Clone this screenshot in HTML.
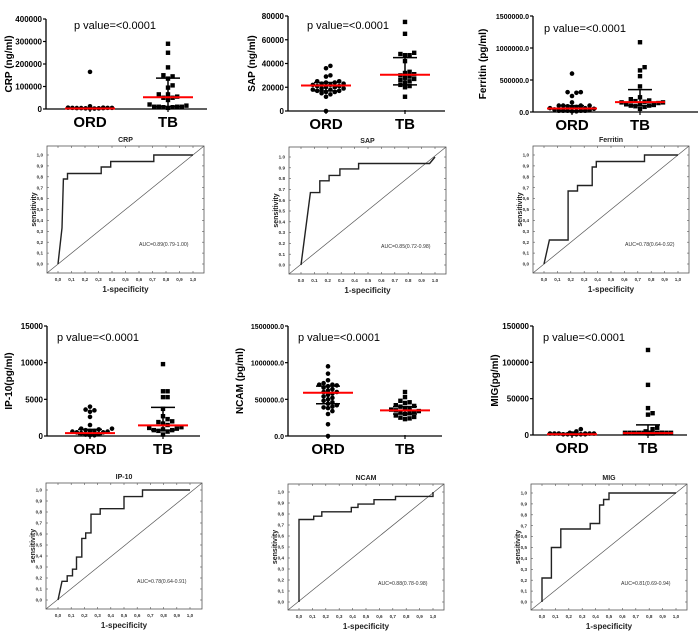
<!DOCTYPE html>
<html><head><meta charset="utf-8">
<style>
body{margin:0;background:#fff;}
svg{display:block;font-family:"Liberation Sans",Arial,sans-serif;}
</style></head>
<body>
<svg id="fig" width="700" height="638" viewBox="0 0 700 638" xmlns="http://www.w3.org/2000/svg"></svg>
<script>
// ---- scatter data ----
const groups = ["ORD","TB"];
const crpORD = [165000,12000,6000,6000,5000,5000,5000,4000,4000,4000,3000,3000,2000,2000];
const crpTB = [290000,250000,185000,150000,145000,135000,105000,95000,65000,65000,55000,50000,50000,40000,20000,15000,10000,10000,10000,10000,8000,8000,5000];
const crpStats = {ORD:[2000,1000,5000], TB:[52000,10000,137000]};
const sapORD = [38000,36000,30000,29000,25000,25000,24000,24000,23000,23000,22000,22000,21000,21000,20000,20000,19000,19000,18000,18000,17000,17000,16000,16000,15000,14000,12000,0];
const sapTB = [75000,65000,49000,48000,47000,47000,42000,33000,32000,31000,30000,29000,28000,27000,26000,25000,24000,22000,21000,20000,12000];
const sapStats = {ORD:[21500,17000,24000], TB:[30500,22000,45000]};
const ferORD = [600000,310000,310000,300000,250000,150000,100000,100000,100000,100000,90000,90000,80000,80000,60000,60000,50000,40000,30000,20000,20000,20000,20000,20000,10000,10000];
const ferTB = [1090000,700000,650000,560000,400000,230000,200000,180000,170000,160000,150000,150000,140000,130000,120000,110000,100000,100000,90000,80000,50000];
const ferStats = {ORD:[55000,20000,100000], TB:[155000,100000,350000]};
const ipORD = [4000,3600,3500,3300,2600,1500,1000,1000,900,800,700,700,600,600,500,500,400,300,200,100,100];
const ipTB = [9800,6100,6100,5300,5300,3700,2700,2300,2000,1900,1700,1500,1200,1100,1000,900,800,800,700,600,200];
const ipStats = {ORD:[400,200,900], TB:[1450,800,3900]};
const ncORD = [950000,850000,760000,720000,700000,700000,690000,680000,660000,640000,620000,600000,600000,580000,560000,540000,520000,500000,480000,460000,440000,420000,400000,390000,380000,340000,300000,160000,0];
const ncTB = [600000,530000,480000,460000,450000,420000,410000,400000,380000,370000,360000,350000,340000,330000,320000,310000,300000,280000,260000,250000,240000,230000];
const ncStats = {ORD:[590000,440000,680000], TB:[350000,300000,400000]};
const migORD = [8000,5000,3000,2000,2000,2000,2000,2000,2000,2000,2000,1000,1000,1000,1000,1000,1000];
const migTB = [117000,69000,37000,30000,28000,10000,8000,5000,3000,3000,3000,3000,3000,3000,3000,3000,3000,3000,3000,3000,2000,2000];
const migStats = {ORD:[1000,500,2000], TB:[2500,1500,14000]};
const tickCRP = ["0","100000","200000","300000","400000"];
const tickSAP = ["0","20000","40000","60000","80000"];
const tickFER = ["0.0","500000.0","1000000.0","1500000.0"];
const tickIP = ["0","5000","10000","15000"];
const tickNC = ["0.0","500000.0","1000000.0","1500000.0"];
const tickMIG = ["0","50000","100000","150000"];

// ---- ROC data ----
const rocCRPx = [0,0.03,0.04,0.07,0.07,0.32,0.32,0.39,0.39,0.71,0.71,1];
const rocCRPy = [0,0.33,0.78,0.78,0.83,0.83,0.89,0.89,0.94,0.94,1,1];
const rocSAPx = [0,0.07,0.14,0.14,0.21,0.21,0.29,0.29,0.43,0.43,0.96,1];
const rocSAPy = [0,0.67,0.67,0.78,0.78,0.83,0.83,0.89,0.89,0.94,0.94,1];
const rocFERx = [0,0.04,0.18,0.18,0.25,0.25,0.36,0.36,0.39,0.39,0.75,0.75,1];
const rocFERy = [0,0.22,0.22,0.67,0.67,0.72,0.72,0.89,0.89,0.94,0.94,1,1];
const rocIPx = [0,0.03,0.07,0.07,0.11,0.11,0.14,0.14,0.18,0.18,0.21,0.21,0.25,0.25,0.32,0.32,0.5,0.5,0.64,0.64,1];
const rocIPy = [0,0.17,0.17,0.22,0.22,0.28,0.28,0.39,0.39,0.56,0.56,0.61,0.61,0.78,0.78,0.83,0.83,0.94,0.94,1,1];
const rocNCx = [0,0,0.11,0.11,0.17,0.17,0.39,0.39,0.44,0.44,0.56,0.56,0.72,0.72,1,1];
const rocNCy = [0,0.75,0.75,0.78,0.78,0.82,0.82,0.86,0.86,0.89,0.89,0.93,0.93,0.96,0.96,1];
const rocMIGx = [0,0,0.07,0.07,0.14,0.14,0.36,0.36,0.43,0.43,0.46,0.46,0.5,0.5,1];
const rocMIGy = [0,0.22,0.22,0.5,0.5,0.67,0.67,0.72,0.72,0.89,0.89,0.94,0.94,1,1];
const rocTicksComma = ["0,0","0,1","0,2","0,3","0,4","0,5","0,6","0,7","0,8","0,9","1,0"];
const rocTicksDot = ["0.0","0.1","0.2","0.3","0.4","0.5","0.6","0.7","0.8","0.9","1.0"];

const NS="http://www.w3.org/2000/svg";
const svg=document.getElementById('fig');
function mk(tag,attrs,parent,txt){const e=document.createElementNS(NS,tag);for(const k in attrs)e.setAttribute(k,attrs[k]);if(txt!==undefined)e.textContent=txt;(parent||svg).appendChild(e);return e;}

function scatter(cfg){
  const g=mk('g',{});
  
  
  const ys=v=>cfg.bot-(v/cfg.ymax)*(cfg.bot-cfg.top);
  const ax=mk('line',{x1:cfg.ax,y1:cfg.top,x2:cfg.ax,y2:cfg.bot,stroke:'#000','stroke-width':1.3},g);
  
  const xa=mk('line',{x1:cfg.ax,y1:cfg.bot,x2:cfg.xend,y2:cfg.bot,stroke:'#000','stroke-width':1.3},g);
  
  const n=cfg.ticks.length;
  cfg.ticks.forEach((t,i)=>{
    const v=cfg.ymax*i/(n-1);const y=ys(v);
    mk('line',{x1:cfg.ax-3,y1:y,x2:cfg.ax,y2:y,stroke:'#000','stroke-width':1.2},g);
    const tx=mk('text',{x:cfg.ax-4,y:y+3,'font-size':cfg.tfs||8,'font-weight':'bold','text-anchor':'end'},g,t);
    
  });
  const yl=mk('text',{x:0,y:0,'font-size':10,'font-weight':'bold','text-anchor':'middle',transform:`translate(${cfg.ylx},${(cfg.top+cfg.bot)/2}) rotate(-90)`},g,cfg.ylabel);
  
  const pv=mk('text',{x:cfg.px,y:cfg.py,'font-size':11},g,'p value=<0.0001');
  
  [[cfg.c1,cfg.d1,cfg.stats.ORD,0],[cfg.c2,cfg.d2,cfg.stats.TB,1]].forEach(([cx,data,st,gi])=>{
    const gl=mk('text',{x:cx,y:cfg.bot+18,'font-size':15,'font-weight':'bold','text-anchor':'middle'},g,groups[gi]);
    
    mk('line',{x1:cx,y1:cfg.bot-1,x2:cx,y2:cfg.bot+3,stroke:'#000','stroke-width':1.2},g);
    const placed=[];const sorted=data.slice().sort((a,b)=>a-b);
    const d=gi?4.6:4.4;const maxOff=26;
    sorted.forEach((v,idx)=>{
      const y=ys(v);let off=null;
      for(let k=0;k<40;k++){
        const cand=(k%2?1:-1)*Math.ceil(k/2)*d;
        if(Math.abs(cand)>maxOff)break;
        if(placed.every(p=>Math.hypot(p[0]-cand,p[1]-y)>=d-0.1)){off=cand;break;}
      }
      if(off===null){const k=idx%12;off=(k%2?1:-1)*Math.ceil(k/2)*d*0.5;}
      placed.push([off,y]);
      let m;
      if(gi===0){m=mk('circle',{cx:cx+off,cy:y,r:2.3,fill:'#000'},g);}
      else{m=mk('rect',{x:cx+off-2.2,y:y-2.2,width:4.4,height:4.4,fill:'#000'},g);}
      
      
    });
    const [med,lo,hi]=st;
    mk('line',{x1:cx,y1:ys(lo),x2:cx,y2:ys(hi),stroke:'#000','stroke-width':1.5},g);
    mk('line',{x1:cx-12,y1:ys(hi),x2:cx+12,y2:ys(hi),stroke:'#000','stroke-width':1.5},g);
    mk('line',{x1:cx-12,y1:ys(lo),x2:cx+12,y2:ys(lo),stroke:'#000','stroke-width':1.5},g);
    const ml=mk('line',{x1:cx-25,y1:ys(med),x2:cx+25,y2:ys(med),stroke:'#f00','stroke-width':2},g);
    
  });
}

function roc(cfg){
  const g=mk('g',{});
  
  
  const xs=v=>cfg.x0+v*(cfg.x1-cfg.x0);
  const ys=v=>cfg.y0-v*(cfg.y0-cfg.y1);
  const b=mk('rect',{x:cfg.L,y:cfg.T,width:cfg.R-cfg.L,height:cfg.B-cfg.T,fill:'none',stroke:'#555','stroke-width':0.8},g);
  
  const tl=mk('text',{x:(cfg.L+cfg.R)/2,y:cfg.T-4,'font-size':7,'font-weight':'bold','text-anchor':'middle',fill:'#222'},g,cfg.title);
  
  cfg.ticks.forEach((t,i)=>{
    const v=i/10;
    mk('text',{x:xs(v),y:cfg.B+8,'font-size':4.6,'font-weight':'bold','text-anchor':'middle',fill:'#333'},g,t);
    mk('text',{x:cfg.L-4,y:ys(v)+1.6,'font-size':4.6,'font-weight':'bold','text-anchor':'end',fill:'#333'},g,t);
    mk('line',{x1:xs(v),y1:cfg.B,x2:xs(v),y2:cfg.B-2,stroke:'#555','stroke-width':0.6},g);
    mk('line',{x1:xs(v),y1:cfg.T,x2:xs(v),y2:cfg.T+2,stroke:'#555','stroke-width':0.6},g);
    mk('line',{x1:cfg.L,y1:ys(v),x2:cfg.L+2,y2:ys(v),stroke:'#555','stroke-width':0.6},g);
    mk('line',{x1:cfg.R,y1:ys(v),x2:cfg.R-2,y2:ys(v),stroke:'#555','stroke-width':0.6},g);
  });
  const xl=mk('text',{x:(cfg.L+cfg.R)/2,y:cfg.B+19,'font-size':8,'font-weight':'bold','text-anchor':'middle',fill:'#222'},g,'1-specificity');
  
  const yl=mk('text',{x:0,y:0,'font-size':7,'font-weight':'bold','text-anchor':'middle',fill:'#222',transform:`translate(${cfg.L-11},${(cfg.T+cfg.B)/2}) rotate(-90)`},g,'sensitivity');
  
  const dg=mk('line',{x1:cfg.L,y1:cfg.B,x2:cfg.R,y2:cfg.T,stroke:'#555','stroke-width':0.7},g);
  
  const pts=cfg.fx.map((v,i)=>xs(v).toFixed(1)+','+ys(cfg.fy[i]).toFixed(1)).join(' ');
  const pl=mk('polyline',{points:pts,fill:'none',stroke:'#222','stroke-width':1.4},g);
  
  const au=mk('text',{x:cfg.aucx,y:cfg.aucy,'font-size':5.2,fill:'#333'},g,cfg.auc);
  
}

scatter({name:'crp',ax:46,top:19,bot:109,xend:207,c1:90,c2:168,ymax:400000,ticks:tickCRP,ylabel:'CRP (ng/ml)',ylx:12,px:74,py:29,d1:crpORD,d2:crpTB,stats:crpStats});
scatter({name:'sap',ax:288,top:16,bot:111,xend:445,c1:326,c2:405,ymax:80000,ticks:tickSAP,ylabel:'SAP (ng/ml)',ylx:255,px:307,py:29,d1:sapORD,d2:sapTB,stats:sapStats});
scatter({name:'ferritin',ax:533,top:16,bot:112,xend:698,c1:572,c2:640,ymax:1500000,ticks:tickFER,tfs:7,ylabel:'Ferritin (pg/ml)',ylx:486,px:544,py:32,d1:ferORD,d2:ferTB,stats:ferStats});
scatter({name:'ip10',ax:47,top:326,bot:436,xend:200,c1:90,c2:163,ymax:15000,ticks:tickIP,ylabel:'IP-10(pg/ml)',ylx:12,px:57,py:341,d1:ipORD,d2:ipTB,stats:ipStats});
scatter({name:'ncam',ax:288,top:326,bot:436,xend:442,c1:328,c2:405,ymax:1500000,ticks:tickNC,tfs:7,ylabel:'NCAM (pg/ml)',ylx:243,px:298,py:341,d1:ncORD,d2:ncTB,stats:ncStats});
scatter({name:'mig',ax:533,top:326,bot:435,xend:687,c1:572,c2:648,ymax:150000,ticks:tickMIG,ylabel:'MIG(pg/ml)',ylx:498,px:543,py:341,d1:migORD,d2:migTB,stats:migStats});

roc({name:'crp',title:'CRP',L:47,R:204,T:146,B:273,x0:58,x1:193,y0:264,y1:155,fx:rocCRPx,fy:rocCRPy,ticks:rocTicksComma,auc:'AUC=0.89(0.79-1.00)',aucx:139,aucy:246});
roc({name:'sap',title:'SAP',L:289,R:446,T:147,B:274,x0:301,x1:435,y0:265,y1:157,fx:rocSAPx,fy:rocSAPy,ticks:rocTicksDot,auc:'AUC=0.85(0.72-0.98)',aucx:381,aucy:248});
roc({name:'ferritin',title:'Ferritin',L:533,R:689,T:146,B:273,x0:544,x1:678,y0:264,y1:155,fx:rocFERx,fy:rocFERy,ticks:rocTicksComma,auc:'AUC=0.78(0.64-0.92)',aucx:625,aucy:246});
roc({name:'ip10',title:'IP-10',L:46,R:202,T:483,B:609,x0:58,x1:190,y0:600,y1:490,fx:rocIPx,fy:rocIPy,ticks:rocTicksComma,auc:'AUC=0.78(0.64-0.91)',aucx:137,aucy:583});
roc({name:'ncam',title:'NCAM',L:288,R:444,T:484,B:610,x0:299,x1:433,y0:602,y1:492,fx:rocNCx,fy:rocNCy,ticks:rocTicksComma,auc:'AUC=0.88(0.78-0.98)',aucx:378,aucy:585});
roc({name:'mig',title:'MIG',L:531,R:687,T:484,B:610,x0:542,x1:676,y0:602,y1:493,fx:rocMIGx,fy:rocMIGy,ticks:rocTicksComma,auc:'AUC=0.81(0.69-0.94)',aucx:621,aucy:585});
</script>
</body></html>
